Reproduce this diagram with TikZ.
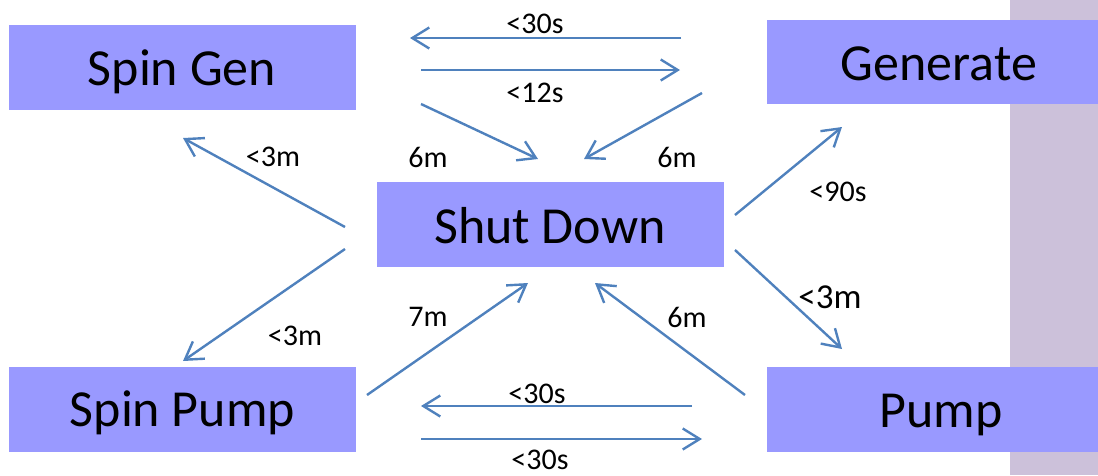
\documentclass[tikz,border=0pt]{standalone}
\usepackage{fontspec}
\setmainfont{Carlito}
\usetikzlibrary{arrows.meta}
\definecolor{boxfill}{HTML}{9999FF}
\definecolor{arrowblue}{HTML}{4F81BD}
\definecolor{stripfill}{HTML}{CCC1DA}
\begin{document}
\begin{tikzpicture}[x=1pt,y=-1pt,
  statebox/.style={fill=boxfill,draw=none,inner sep=0pt,anchor=north west},
  statetext/.style={anchor=base,inner sep=0pt,font=\fontsize{52}{60}\selectfont},
  conn/.style={draw=arrowblue,line width=2.4pt,-{Straight Barb[length=17pt,width=21pt,line width=2.4pt]}},
  lab/.style={inner sep=0pt,font=\fontsize{30}{35}\selectfont},
  labbig/.style={inner sep=0pt,font=\fontsize{35}{40}\selectfont}]
\useasboundingbox (0,0) rectangle (1098,475);
% right strip
\fill[stripfill] (1010,0) rectangle (1098,475);
% boxes
\node[statebox,minimum width=347pt,minimum height=85pt] (spingenbox) at (9,25) {};
\node[statebox,minimum width=331pt,minimum height=84pt] (generatebox) at (767,20) {};
\node[statebox,minimum width=347pt,minimum height=85pt] (shutdownbox) at (377,182) {};
\node[statebox,minimum width=347pt,minimum height=85pt] (spinpumpbox) at (9,367) {};
\node[statebox,minimum width=331pt,minimum height=85pt] (pumpbox) at (767,367) {};
% box texts
\node[statetext] (spingen) at (182,85) {Spin Gen};
\node[statetext] (generate) at (939,80) {Generate};
\node[statetext] (shutdown) at (550,243) {Shut Down};
\node[statetext] (spinpump) at (182.5,426) {Spin Pump};
\node[statetext] (pump) at (941,427) {Pump};
% connector end points
\coordinate (a1s) at (681,38);  \coordinate (a1e) at (410,38);
\coordinate (a2s) at (421,70);  \coordinate (a2e) at (680,70);
\coordinate (a3s) at (421,104); \coordinate (a3e) at (538,159);
\coordinate (a4s) at (702,93);  \coordinate (a4e) at (584,159);
\coordinate (a5s) at (345,227); \coordinate (a5e) at (183,138);
\coordinate (a6s) at (345,249); \coordinate (a6e) at (183,361);
\coordinate (a7s) at (735,215); \coordinate (a7e) at (842,127);
\coordinate (a8s) at (735,250); \coordinate (a8e) at (842,349);
\coordinate (a9s) at (367,395); \coordinate (a9e) at (528,283);
\coordinate (a10s) at (745,395); \coordinate (a10e) at (595,283);
\coordinate (a11s) at (692,406); \coordinate (a11e) at (421,406);
\coordinate (a12s) at (421,439); \coordinate (a12e) at (702,439);
% connectors
\draw[conn] (a1s) -- (a1e);
\draw[conn] (a2s) -- (a2e);
\draw[conn] (a3s) -- (a3e);
\draw[conn] (a4s) -- (a4e);
\draw[conn] (a5s) -- (a5e);
\draw[conn] (a6s) -- (a6e);
\draw[conn] (a7s) -- (a7e);
\draw[conn] (a8s) -- (a8e);
\draw[conn] (a9s) -- (a9e);
\draw[conn] (a10s) -- (a10e);
\draw[conn] (a11s) -- (a11e);
\draw[conn] (a12s) -- (a12e);
% labels
\node[lab] (l1) at (535,24) {<30s};
\node[lab] (l2) at (535,93) {<12s};
\node[lab] (l3) at (428,157) {6m};
\node[lab] (l4) at (677,157) {6m};
\node[lab] (l5) at (273,157) {<3m};
\node[lab] (l6) at (295,336) {<3m};
\node[lab] (l7) at (838,192) {<90s};
\node[labbig] (l8) at (830,297) {<3m};
\node[lab] (l9) at (428,317) {7m};
\node[lab] (l10) at (687,317) {6m};
\node[lab] (l11) at (537,394) {<30s};
\node[lab] (l12) at (540,460) {<30s};
\end{tikzpicture}
\end{document}
